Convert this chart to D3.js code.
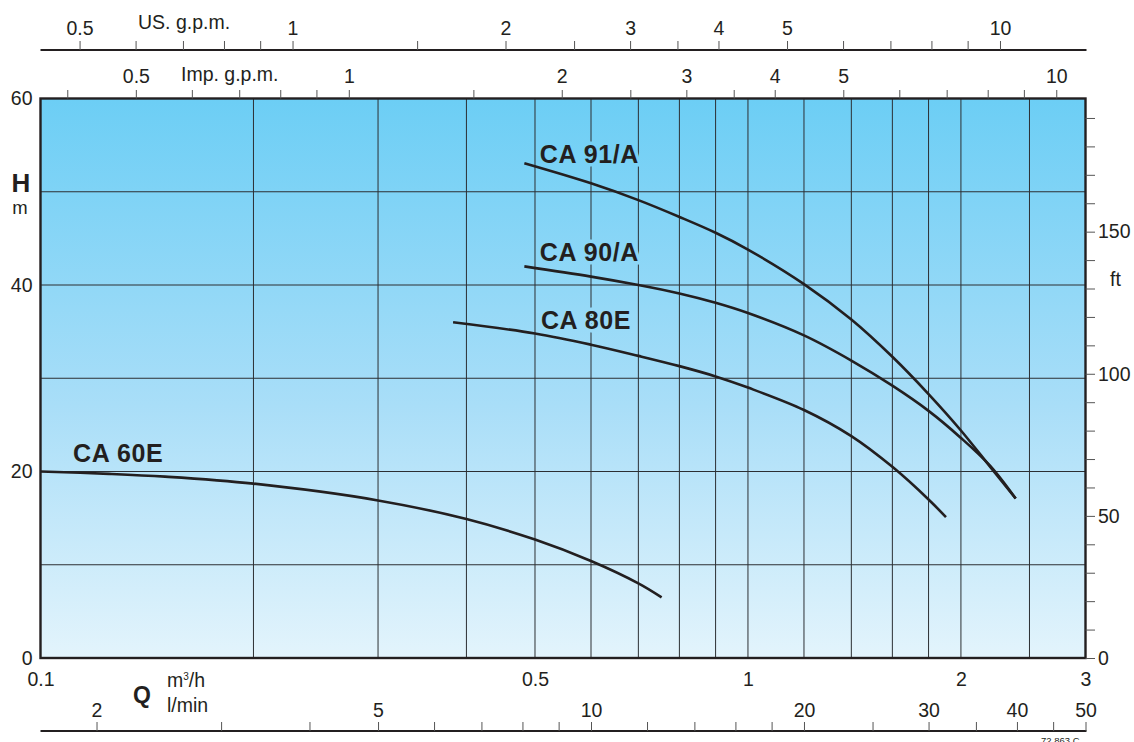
<!DOCTYPE html>
<html>
<head>
<meta charset="utf-8">
<script src="https://cdn.jsdelivr.net/npm/d3@7"></script>
<style>
  html, body { margin: 0; padding: 0; background: #fff; }
  svg { display: block; font-family: "Liberation Sans", Arial, sans-serif; }
</style>
</head>
<body>
<div id="container"></div>
<script>
// flow in m3/h, head in m
var ca60Q = [0.1, 0.125, 0.15, 0.2, 0.3, 0.4, 0.5, 0.6, 0.7, 0.755];
var ca60H = [20, 19.75, 19.45, 18.7, 16.9, 14.9, 12.7, 10.4, 8.0, 6.5];
var ca80Q = [0.383, 0.5, 0.6, 0.7, 0.8, 0.9, 1.0, 1.2, 1.4, 1.6, 1.8, 1.905];
var ca80H = [36.0, 34.8, 33.6, 32.4, 31.3, 30.2, 29.0, 26.6, 23.8, 20.5, 17.0, 15.1];
var ca90Q = [0.483, 0.6, 0.7, 0.8, 0.9, 1.0, 1.2, 1.4, 1.6, 1.8, 2.0, 2.2, 2.39];
var ca90H = [42.0, 40.9, 40.0, 39.1, 38.1, 37.0, 34.6, 31.9, 29.2, 26.5, 23.6, 20.6, 17.1];
var ca91Q = [0.483, 0.6, 0.7, 0.8, 0.9, 1.0, 1.2, 1.4, 1.6, 1.8, 2.0, 2.2, 2.39];
var ca91H = [53.05, 50.9, 49.1, 47.3, 45.6, 43.8, 40.1, 36.3, 32.3, 28.3, 24.4, 20.5, 17.1];

var curveNames = ["CA 60E", "CA 80E", "CA 90/A", "CA 91/A"];

var qGrid = [0.2, 0.3, 0.4, 0.5, 0.6, 0.7, 0.8, 0.9, 1, 1.2, 1.4, 1.6, 1.8, 2, 2.5];
var qLabels = [0.1, 0.5, 1, 2, 3];
var hGrid = [10, 20, 30, 40, 50];
var hLabels = [0, 20, 40, 60];
var ftTicks = d3.range(0, 200, 10);
var ftLabels = [0, 50, 100, 150];
var usTicks = [0.5, 0.6, 0.7, 0.8, 0.9, 1, 1.5, 2, 2.5, 3, 3.5, 4, 5, 6, 7, 8, 9, 10];
var usLabels = [0.5, 1, 2, 3, 4, 5, 10];
var impTicks = [0.4, 0.5, 0.6, 0.7, 0.8, 0.9, 1, 1.5, 2, 2.5, 3, 3.5, 4, 5, 6, 7, 8, 9, 10];
var impLabels = [0.5, 1, 2, 3, 4, 5, 10];
var lminTicks = [2, 3, 4, 5, 6, 7, 8, 9, 10, 12, 14, 16, 18, 20, 25, 30, 35, 40, 45, 50];
var lminLabels = [2, 5, 10, 20, 30, 40, 50];

var US_PER_M3H = 4.4029, IMP_PER_M3H = 3.6662, LMIN_PER_M3H = 1000 / 60, FT_PER_M = 1 / 0.3048;

var W = 1134, H = 742;
var plot = { left: 40.5, right: 1085.5, top: 98.5, bottom: 658 };
var ink = "#231f20";

var svg = d3.select("#container").append("svg")
    .attr("width", W)
    .attr("height", H);

var x = d3.scaleLog().domain([0.1, 3]).range([plot.left, plot.right]);
var y = d3.scaleLinear().domain([0, 60]).range([plot.bottom, plot.top]);
var xUS = d3.scaleLog().domain([0.1 * US_PER_M3H, 3 * US_PER_M3H]).range([plot.left, plot.right]);
var xImp = d3.scaleLog().domain([0.1 * IMP_PER_M3H, 3 * IMP_PER_M3H]).range([plot.left, plot.right]);
var xL = d3.scaleLog().domain([0.1 * LMIN_PER_M3H, 3 * LMIN_PER_M3H]).range([plot.left, plot.right]);
var yFt = d3.scaleLinear().domain([0, 60 * FT_PER_M]).range([plot.bottom, plot.top]);

var defs = svg.append("defs");
var grad = defs.append("linearGradient")
    .attr("id", "bg")
    .attr("gradientUnits", "userSpaceOnUse")
    .attr("x1", 0).attr("y1", plot.top)
    .attr("x2", 0).attr("y2", plot.bottom);
grad.append("stop").attr("offset", "0%").attr("stop-color", "#6ccef5");
grad.append("stop").attr("offset", "55%").attr("stop-color", "#a9def8");
grad.append("stop").attr("offset", "100%").attr("stop-color", "#e3f4fc");

svg.append("rect")
    .attr("x", plot.left).attr("y", plot.top)
    .attr("width", plot.right - plot.left)
    .attr("height", plot.bottom - plot.top)
    .attr("fill", "url(#bg)");

// grid
var grid = svg.append("g").attr("stroke", "#2c2f33").attr("stroke-width", 1);
grid.selectAll("line.v").data(qGrid).enter().append("line")
    .attr("class", "v")
    .attr("x1", d => x(d)).attr("x2", d => x(d))
    .attr("y1", plot.top).attr("y2", plot.bottom);
grid.selectAll("line.h").data(hGrid).enter().append("line")
    .attr("class", "h")
    .attr("x1", plot.left).attr("x2", plot.right)
    .attr("y1", d => y(d)).attr("y2", d => y(d));

// curve labels, stroked with the background so grid lines break around them
var labelPos = [
    { q: 0.1112, h: 21.0 },
    { q: 0.5097, h: 35.28 },
    { q: 0.508, h: 42.57 },
    { q: 0.508, h: 53.08 }
];
svg.append("g").selectAll("text").data(curveNames).enter().append("text")
    .attr("x", (d, i) => x(labelPos[i].q))
    .attr("y", (d, i) => y(labelPos[i].h))
    .attr("font-size", 25)
    .attr("font-weight", "bold")
    .attr("letter-spacing", 0.6)
    .attr("fill", ink)
    .attr("stroke", "url(#bg)")
    .attr("stroke-width", 7)
    .attr("paint-order", "stroke")
    .text(d => d);

// pump curves
var series = [[ca60Q, ca60H], [ca80Q, ca80H], [ca90Q, ca90H], [ca91Q, ca91H]];
var line = d3.line()
    .x(d => x(d[0]))
    .y(d => y(d[1]))
    .curve(d3.curveCatmullRom.alpha(0.5));
svg.append("g").selectAll("path").data(series).enter().append("path")
    .attr("d", s => line(s[0].map((q, i) => [q, s[1][i]])))
    .attr("fill", "none")
    .attr("stroke", ink)
    .attr("stroke-width", 2.6)
    .attr("stroke-linecap", "butt");

// frame
svg.append("rect")
    .attr("x", plot.left).attr("y", plot.top)
    .attr("width", plot.right - plot.left)
    .attr("height", plot.bottom - plot.top)
    .attr("fill", "none")
    .attr("stroke", ink)
    .attr("stroke-width", 2.4);

function styleAxis(g, size) {
    g.select(".domain").remove();
    g.selectAll(".tick line").attr("stroke", "#555");
    g.selectAll(".tick text").attr("fill", ink).attr("font-size", size);
    g.attr("font-family", null);
}

function labelFmt(list) {
    return d => list.indexOf(d) >= 0 ? String(d) : "";
}

// US gpm axis
var usY = 50;
svg.append("line")
    .attr("x1", plot.left).attr("x2", plot.right + 1)
    .attr("y1", usY).attr("y2", usY)
    .attr("stroke", ink).attr("stroke-width", 2.2);
svg.append("g")
    .attr("transform", `translate(0,${usY})`)
    .call(d3.axisTop(xUS).tickValues(usTicks).tickFormat(labelFmt(usLabels)).tickSize(9).tickPadding(6))
    .call(g => styleAxis(g, 19.5));
svg.append("text")
    .attr("x", 138).attr("y", 28.5)
    .attr("font-size", 19.5).attr("fill", ink)
    .text("US. g.p.m.");

// Imp gpm axis
svg.append("g")
    .attr("transform", `translate(0,${plot.top})`)
    .call(d3.axisTop(xImp).tickValues(impTicks).tickFormat(labelFmt(impLabels)).tickSize(8.5).tickPadding(7.5))
    .call(g => styleAxis(g, 19.5));
svg.append("text")
    .attr("x", 181).attr("y", 80.5)
    .attr("font-size", 19.5).attr("fill", ink)
    .text("Imp. g.p.m.");

// m3/h labels
svg.append("g")
    .attr("transform", `translate(0,${plot.bottom})`)
    .call(d3.axisBottom(x).tickValues(qLabels).tickFormat(d => String(d)).tickSize(0).tickPadding(14.5))
    .call(g => styleAxis(g, 19.5));

// l/min axis
var lY = 731;
svg.append("line")
    .attr("x1", plot.left).attr("x2", plot.right + 1)
    .attr("y1", lY).attr("y2", lY)
    .attr("stroke", ink).attr("stroke-width", 2.2);
svg.append("g")
    .attr("transform", `translate(0,${lY})`)
    .call(d3.axisTop(xL).tickValues(lminTicks).tickFormat(labelFmt(lminLabels)).tickSize(9).tickPadding(5))
    .call(g => styleAxis(g, 19.5));

svg.append("text")
    .attr("x", 133).attr("y", 703)
    .attr("font-size", 23).attr("font-weight", "bold").attr("fill", ink)
    .text("Q");
var unitM3 = svg.append("text")
    .attr("x", 167).attr("y", 686.5)
    .attr("font-size", 19.5).attr("fill", ink);
unitM3.append("tspan").text("m");
unitM3.append("tspan").attr("font-size", 10).attr("dy", -7).text("3");
unitM3.append("tspan").attr("dy", 7).text("/h");
svg.append("text")
    .attr("x", 167).attr("y", 711.5)
    .attr("font-size", 19.5).attr("fill", ink)
    .text("l/min");

// head axis (m)
svg.append("g")
    .attr("transform", `translate(${plot.left},0)`)
    .call(d3.axisLeft(y).tickValues(hLabels).tickSize(0).tickPadding(8))
    .call(g => styleAxis(g, 19.5));
svg.append("text")
    .attr("x", 21).attr("y", 191.5)
    .attr("text-anchor", "middle")
    .attr("font-size", 26).attr("font-weight", "bold").attr("fill", ink)
    .text("H");
svg.append("text")
    .attr("x", 20).attr("y", 214)
    .attr("text-anchor", "middle")
    .attr("font-size", 18.5).attr("fill", ink)
    .text("m");

// head axis (ft)
svg.append("g")
    .attr("transform", `translate(${plot.right},0)`)
    .call(d3.axisRight(yFt).tickValues(ftTicks).tickFormat(labelFmt(ftLabels)).tickSize(9.5).tickPadding(3))
    .call(g => styleAxis(g, 19.5));
svg.append("text")
    .attr("x", 1110).attr("y", 285.5)
    .attr("font-size", 19.5).attr("fill", ink)
    .text("ft");

svg.append("text")
    .attr("x", 1041).attr("y", 744)
    .attr("font-size", 9.5).attr("fill", ink)
    .text("72.863 C");
</script>
</body>
</html>
